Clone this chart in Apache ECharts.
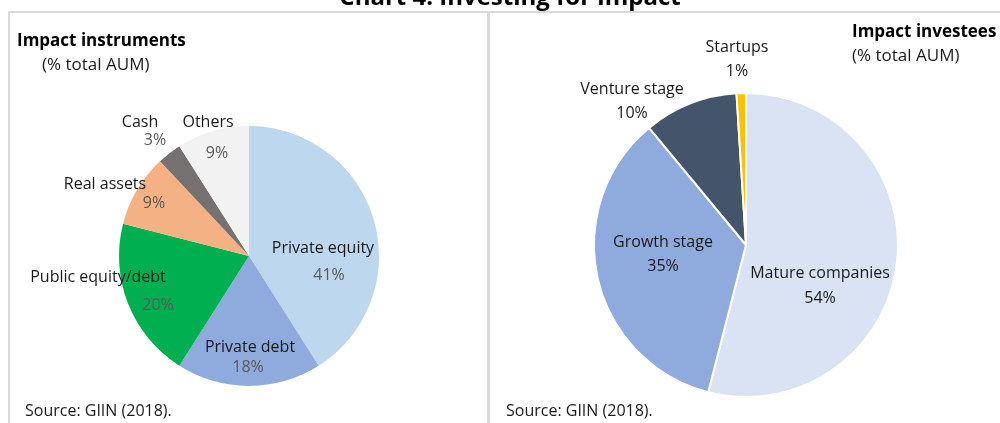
<!DOCTYPE html>
<html>
<head>
<meta charset="utf-8">
<script src="https://cdn.jsdelivr.net/npm/echarts@6/dist/echarts.min.js"></script>
<style>
  html, body { margin: 0; padding: 0; background: #fff; }
  #chart { width: 1000px; height: 423px; }
</style>
</head>
<body>
<div id="chart"></div>
<script>
// left pie: impact instruments (% total AUM)
const instrumentNames = ['Private equity', 'Private debt', 'Public equity/debt', 'Real assets', 'Cash', 'Others'];
const instrumentValues = [41, 18, 20, 9, 3, 9];
const instrumentColors = ['#BDD7EE', '#8FAADC', '#00B050', '#F4B183', '#767171', '#F2F2F2'];

// right pie: impact investees (% total AUM)
const investeeNames = ['Mature companies', 'Growth stage', 'Venture stage', 'Startups'];
const investeeValues = [54, 35, 10, 1];
const investeeColors = ['#DAE3F3', '#8FAADC', '#44546A', '#FFC000'];

// excel put names and percentages separately (label centres, px)
const instrumentNamePos = [[323, 248], [250, 347], [98, 277], [105, 184], [140, 122], [208, 122]];
const instrumentPctPos = [[329, 275], [248, 367], [158, 305], [154, 203], [155, 140], [217, 153]];
const investeeNamePos = [[820, 273], [663, 242], [632, 89], [737, 47]];
const investeePctPos = [[820, 298], [663, 266], [632, 113], [737, 71]];

const FONT = '"Open Sans"';
const chart = echarts.init(document.getElementById('chart'));

// one series draws the slices + percentages, a transparent copy carries the names
function pieSeries(names, values, colors, center, radius, border, showSlices, textColor, pos, fmt) {
  let data = [];
  for (let i = 0; i < names.length; i++) {
    data.push({ name: names[i], value: values[i], itemStyle: { color: showSlices ? colors[i] : 'rgba(0,0,0,0)' } });
  }
  return {
    type: 'pie',
    center: center,
    radius: radius,
    startAngle: 90,
    clockwise: true,
    silent: true,
    animation: false,
    itemStyle: { borderColor: showSlices ? '#fff' : 'rgba(0,0,0,0)', borderWidth: border },
    label: {
      show: true,
      position: 'inside',
      formatter: fmt,
      fontFamily: FONT,
      fontSize: 16,
      color: textColor
    },
    labelLine: { show: false },
    labelLayout: p => ({ x: pos[p.dataIndex][0], y: pos[p.dataIndex][1] }),
    data: data
  };
}

const pctFmt = p => p.value + '%';
const nameFmt = p => p.name;

let option = {
  backgroundColor: '#fff',
  title: [
    { text: 'Chart 4. Investing for impact', left: 510, top: -14, textAlign: 'center', padding: 0,
      textStyle: { fontFamily: FONT, fontSize: 24, fontWeight: 'bold', color: '#000' } },
    { text: 'Impact instruments', left: 17, top: 33, padding: 0,
      textStyle: { fontFamily: FONT, fontSize: 17, fontWeight: 'bold', color: '#000' } },
    { text: '(% total AUM)', left: 42, top: 57, padding: 0,
      textStyle: { fontFamily: FONT, fontSize: 17, fontWeight: 'normal', color: '#1a1a1a' } },
    { text: 'Impact investees', left: 852, top: 24, padding: 0,
      textStyle: { fontFamily: FONT, fontSize: 17, fontWeight: 'bold', color: '#000' } },
    { text: '(% total AUM)', left: 852, top: 48, padding: 0,
      textStyle: { fontFamily: FONT, fontSize: 17, fontWeight: 'normal', color: '#1a1a1a' } },
    { text: 'Source: GIIN (2018).', left: 25, top: 403, padding: 0,
      textStyle: { fontFamily: FONT, fontSize: 16, fontWeight: 'normal', color: '#1a1a1a' } },
    { text: 'Source: GIIN (2018).', left: 506, top: 403, padding: 0,
      textStyle: { fontFamily: FONT, fontSize: 16, fontWeight: 'normal', color: '#1a1a1a' } }
  ],
  graphic: [
    { type: 'line', shape: { x1: 8, y1: 12, x2: 1000, y2: 12 }, style: { stroke: '#D9D9D9', lineWidth: 2 } },
    { type: 'line', shape: { x1: 9, y1: 12, x2: 9, y2: 423 }, style: { stroke: '#D9D9D9', lineWidth: 2 } },
    { type: 'line', shape: { x1: 488.5, y1: 12, x2: 488.5, y2: 423 }, style: { stroke: '#D9D9D9', lineWidth: 3 } }
  ],
  series: [
    pieSeries(instrumentNames, instrumentValues, instrumentColors, [249, 256], 130, 0, true, '#595959', instrumentPctPos, pctFmt),
    pieSeries(instrumentNames, instrumentValues, instrumentColors, [249, 256], 130, 0, false, '#1a1a1a', instrumentNamePos, nameFmt),
    pieSeries(investeeNames, investeeValues, investeeColors, [746, 245], 152, 2, true, '#1a1a1a', investeePctPos, pctFmt),
    pieSeries(investeeNames, investeeValues, investeeColors, [746, 245], 152, 2, false, '#1a1a1a', investeeNamePos, nameFmt)
  ]
};

chart.setOption(option);
</script>
</body>
</html>
